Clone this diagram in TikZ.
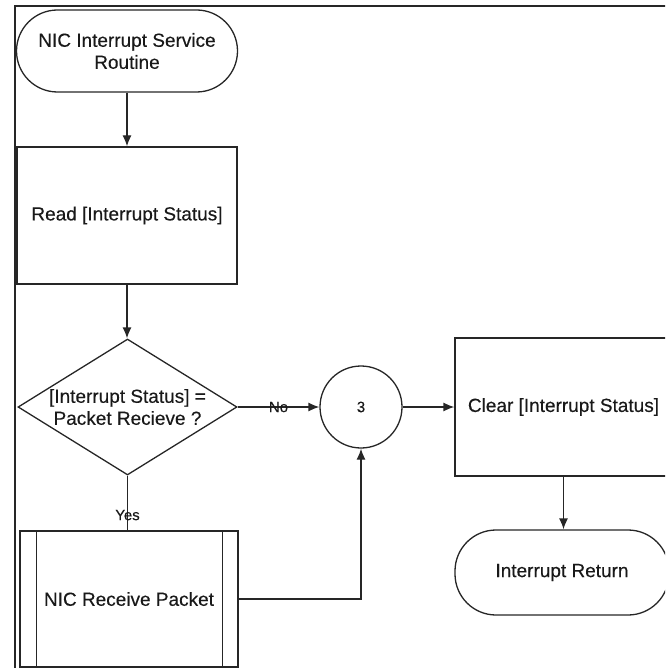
\documentclass[tikz,border=0pt]{standalone}
\usepackage{fontspec}
\setmainfont{Liberation Sans}[FakeBold=0.3]
\usetikzlibrary{arrows.meta,shapes.geometric}
\begin{document}
\begin{tikzpicture}[x=1pt,y=-1pt,
  ink/.style={draw=black!85, line width=1.3pt},
  lbl/.style={text=black!90, font=\fontsize{19}{22}\selectfont, align=center, inner sep=0pt},
  terminal/.style={ink, lbl, rectangle, rounded corners=41pt},
  procbox/.style={ink, lbl, rectangle},
  decision/.style={ink, lbl, diamond, aspect=1.61, minimum width=219pt, minimum height=136pt},
  joint/.style={ink, lbl, circle, minimum size=82pt, font=\fontsize{15}{17}\selectfont},
  flow/.style={ink, -{Latex[length=11pt,width=9pt]}},
  tag/.style={text=black!90, font=\fontsize{15}{17}\selectfont, inner sep=0pt},
]
\useasboundingbox (0,0) rectangle (665,668);
\clip (0,0) rectangle (665,668);

% outer frame
\draw[ink] (15,670) -- (15,6) -- (668,6);

% nodes
\node[terminal, minimum width=221pt, minimum height=82pt] (start) at (127,51) {NIC Interrupt Service\\Routine};
\node[procbox, minimum width=220pt, minimum height=137pt] (read) at (127,215.5) {Read [Interrupt Status]};
\node[decision] (dec) at (127.5,407) {[Interrupt Status] =\\Packet Recieve ?};
\node[joint] (conn) at (361,407) {3};
\node[procbox, minimum width=217pt, minimum height=138pt] (clear) at (563.5,407) {Clear [Interrupt Status]};
\node[terminal, minimum width=214pt, minimum height=85pt] (ret) at (562,572.5) {Interrupt Return};
\node[procbox, minimum width=218pt, minimum height=136pt] (recv) at (129,599) {NIC Receive Packet};
\draw[ink] ([xshift=17pt]recv.north west) -- ([xshift=17pt]recv.south west);
\draw[ink] ([xshift=-16pt]recv.north east) -- ([xshift=-16pt]recv.south east);

% connectors
\draw[flow] (start.south) -- (start.south |- read.north);
\draw[flow] (read.south) -- (read.south |- dec.north);
\draw[flow] (dec.east) -- node[tag] {No} (conn.west);
\draw[flow] (conn.east) -- (clear.west);
\draw[flow] (clear.south) -- (clear.south |- ret.north);
\draw[ink] (dec.south) -- node[tag, pos=0.72] {Yes} (dec.south |- recv.north);
\draw[flow] (recv.east) -| (conn.south);
\end{tikzpicture}
\end{document}
